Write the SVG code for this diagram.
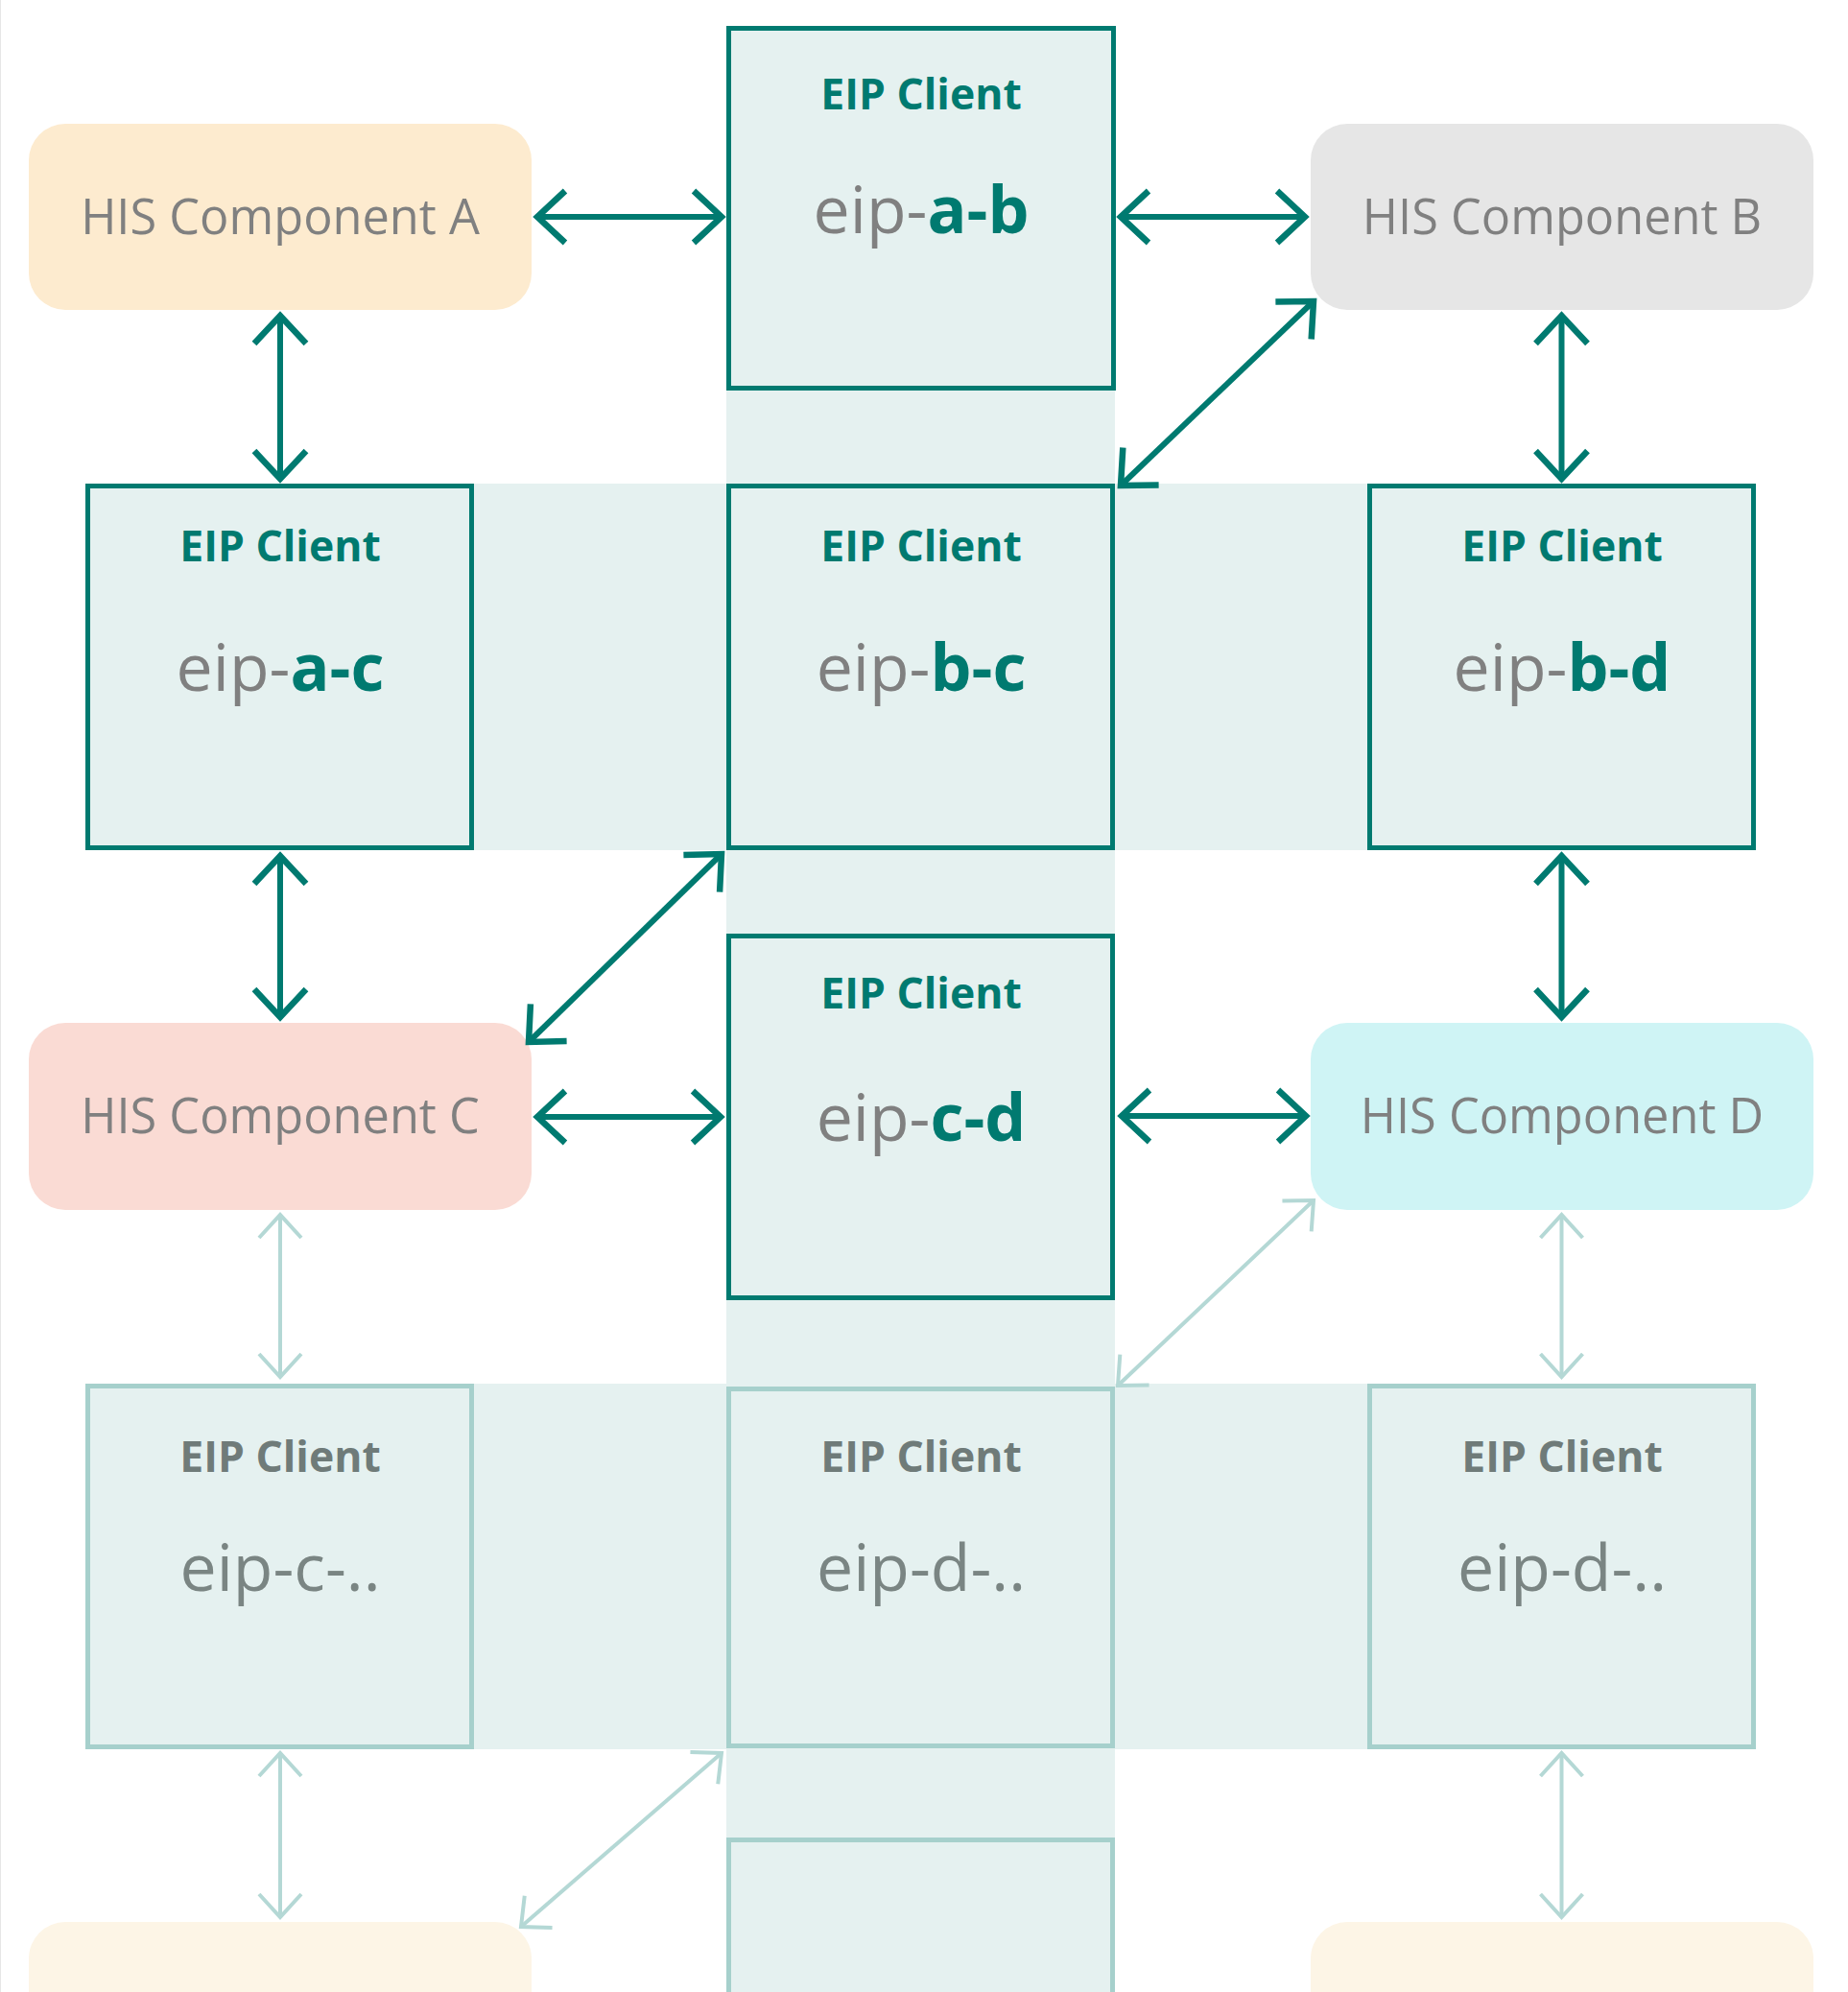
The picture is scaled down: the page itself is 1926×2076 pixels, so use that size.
<svg xmlns="http://www.w3.org/2000/svg" width="1926" height="2076" viewBox="0 0 1926 2076">
<style>
.band{fill:#E5F1F0}
.box{fill:#E5F1F0;stroke:#007A70;stroke-width:5}
.fbox{fill:#E5F1F0;stroke:#A6D0CC;stroke-width:5}
.comp{font-family:"Open Sans","Noto Sans",sans-serif;font-size:50.5px;fill:#808080;text-anchor:middle}
.hdr{font-family:"Open Sans","Noto Sans",sans-serif;font-size:44.5px;font-weight:700;fill:#007A70;text-anchor:middle}
.fhdr{font-family:"Open Sans","Noto Sans",sans-serif;font-size:44.5px;font-weight:700;fill:#6F7B79;text-anchor:middle}
.nm{font-family:"Open Sans","Noto Sans",sans-serif;font-size:68px;fill:#808080;text-anchor:middle}
.fnm{font-family:"Open Sans","Noto Sans",sans-serif;font-size:68px;fill:#7A8583;text-anchor:middle}
.b{font-weight:700;fill:#007A70}
.arr{fill:none;stroke:#007A70;stroke-width:6;marker-start:url(#h);marker-end:url(#h)}
.farr{fill:none;stroke:#B4D8D5;stroke-width:4;marker-start:url(#fh);marker-end:url(#fh)}
</style>
<defs>
<marker id="h" markerUnits="userSpaceOnUse" viewBox="-40 -40 50 80" markerWidth="50" markerHeight="80" refX="0" refY="0" orient="auto-start-reverse">
<path d="M-29,-27 L0,0 L-29,27" fill="none" stroke="#007A70" stroke-width="6.5"/>
</marker>
<marker id="fh" markerUnits="userSpaceOnUse" viewBox="-40 -40 50 80" markerWidth="50" markerHeight="80" refX="0" refY="0" orient="auto-start-reverse">
<path d="M-24,-22 L0,0 L-24,22" fill="none" stroke="#B4D8D5" stroke-width="4"/>
</marker>
</defs>
<rect x="0" y="0" width="1926" height="2076" fill="#FFFFFF"/>
<line x1="0.5" y1="0" x2="0.5" y2="2076" stroke="#E6E6E6" stroke-width="1"/>
<g id="bands">
<rect class="band" x="757" y="407" width="405" height="1669"/>
<rect class="band" x="494" y="504" width="931" height="382"/>
<rect class="band" x="494" y="1442" width="931" height="381"/>
</g>
<g id="comp-a"><rect x="30" y="129" width="524" height="194" rx="38" fill="#FDEBCF"/><text class="comp" x="292" y="244">HIS Component A</text></g>
<g id="comp-b"><rect x="1366" y="129" width="524" height="194" rx="38" fill="#E6E6E6"/><text class="comp" x="1628" y="244">HIS Component B</text></g>
<g id="comp-c"><rect x="30" y="1066" width="524" height="195" rx="38" fill="#FADBD4"/><text class="comp" x="292" y="1181">HIS Component C</text></g>
<g id="comp-d"><rect x="1366" y="1066" width="524" height="195" rx="38" fill="#CFF4F5"/><text class="comp" x="1628" y="1181">HIS Component D</text></g>
<g id="comp-e"><rect x="30" y="2003" width="524" height="194" rx="38" fill="#FDF5E6"/></g>
<g id="comp-f"><rect x="1366" y="2003" width="524" height="194" rx="38" fill="#FDF5E6"/></g>
<g id="eip-a-b"><rect class="box" x="759.5" y="29.5" width="401" height="375"/><text class="hdr" x="960" y="114">EIP Client</text><text class="nm" x="960" y="243">eip-<tspan class="b">a-b</tspan></text></g>
<g id="eip-a-c"><rect class="box" x="91.5" y="506.5" width="400" height="377"/><text class="hdr" x="292" y="585">EIP Client</text><text class="nm" x="292" y="720">eip-<tspan class="b">a-c</tspan></text></g>
<g id="eip-b-c"><rect class="box" x="759.5" y="506.5" width="400" height="377"/><text class="hdr" x="960" y="585">EIP Client</text><text class="nm" x="960" y="720">eip-<tspan class="b">b-c</tspan></text></g>
<g id="eip-b-d"><rect class="box" x="1427.5" y="506.5" width="400" height="377"/><text class="hdr" x="1628" y="585">EIP Client</text><text class="nm" x="1628" y="720">eip-<tspan class="b">b-d</tspan></text></g>
<g id="eip-c-d"><rect class="box" x="759.5" y="975.5" width="400" height="377"/><text class="hdr" x="960" y="1051">EIP Client</text><text class="nm" x="960" y="1189">eip-<tspan class="b">c-d</tspan></text></g>
<g id="eip-c-x"><rect class="fbox" x="91.5" y="1444.5" width="400" height="376"/><text class="fhdr" x="292" y="1534">EIP Client</text><text class="fnm" x="292" y="1658">eip-c-..</text></g>
<g id="eip-d-x1"><rect class="fbox" x="759.5" y="1447.5" width="400" height="372"/><text class="fhdr" x="960" y="1534">EIP Client</text><text class="fnm" x="960" y="1658">eip-d-..</text></g>
<g id="eip-d-x2"><rect class="fbox" x="1427.5" y="1444.5" width="400" height="376"/><text class="fhdr" x="1628" y="1534">EIP Client</text><text class="fnm" x="1628" y="1658">eip-d-..</text></g>
<g id="eip-bottom"><rect class="fbox" x="759.5" y="1917.5" width="400" height="400"/></g>
<g id="connectors">
<line class="arr" x1="560" y1="226" x2="752" y2="226"/>
<line class="arr" x1="1168" y1="226" x2="1360" y2="226"/>
<line class="arr" x1="292" y1="329" x2="292" y2="499"/>
<line class="arr" x1="1627.5" y1="329" x2="1627.5" y2="499"/>
<line class="arr" x1="1369" y1="314" x2="1168" y2="506"/>
<line class="arr" x1="292" y1="892" x2="292" y2="1060"/>
<line class="arr" x1="1627.5" y1="892" x2="1627.5" y2="1060"/>
<line class="arr" x1="752" y1="890" x2="551" y2="1086"/>
<line class="arr" x1="560" y1="1164" x2="751" y2="1164"/>
<line class="arr" x1="1169" y1="1163" x2="1361" y2="1163"/>
<line class="farr" x1="292" y1="1266" x2="292" y2="1435"/>
<line class="farr" x1="1627.5" y1="1266" x2="1627.5" y2="1435"/>
<line class="farr" x1="1369" y1="1251" x2="1165" y2="1444"/>
<line class="farr" x1="292" y1="1827" x2="292" y2="1998"/>
<line class="farr" x1="1627.5" y1="1827" x2="1627.5" y2="1998"/>
<line class="farr" x1="752" y1="1827" x2="543" y2="2008"/>
</g>
</svg>
